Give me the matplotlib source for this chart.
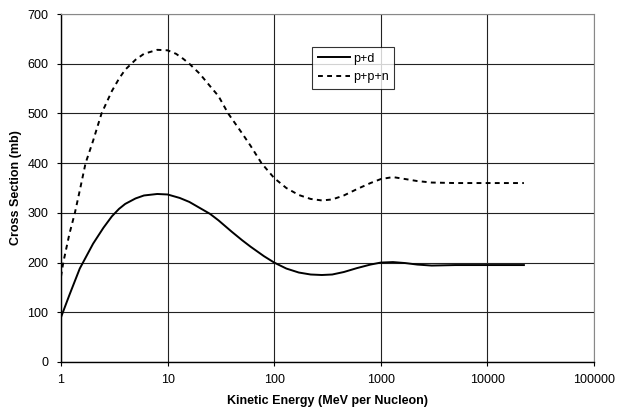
import matplotlib
matplotlib.use("Agg")
import matplotlib.pyplot as plt

plt.rcParams['font.family'] = ['Liberation Sans', 'DejaVu Sans']

# values
pd_energy = [1, 1.2, 1.5, 2, 2.5, 3, 3.5, 4, 5, 6, 8, 10, 13, 16, 20, 25, 30, 40, 50,
             60, 80, 100, 130, 170, 220, 280, 350, 450, 600, 800, 1000, 1300, 1700,
             2200, 3000, 5000, 10000, 22000]
pd_xs = [90, 135, 188, 238, 270, 293, 308, 318, 329, 335, 338, 337, 330, 322, 310, 298,
         285, 262, 245, 232, 213, 200, 188, 180, 176, 175, 176, 181, 189, 196, 200,
         201, 199, 196, 194, 195, 195, 195]

ppn_energy = [1, 1.05, 1.2, 1.35, 1.5, 1.7, 2, 2.4, 3, 3.5, 4, 5, 6, 8, 10, 12, 14, 16,
              20, 25, 30, 37, 50, 60, 76, 100, 130, 170, 220, 280, 350, 450, 600, 800,
              1000, 1300, 1700, 2200, 3000, 5000, 10000, 22000]
ppn_xs = [172, 200, 258, 300, 345, 400, 445, 500, 545, 570, 588, 608, 620, 628, 627, 620,
          610, 600, 580, 555, 535, 500, 460, 435, 400, 370, 350, 336, 328, 325, 327, 335,
          348, 360, 368, 372, 368, 364, 361, 360, 360, 360]

x_ticks = [1, 10, 100, 1000, 10000, 100000]
x_labels = ['1', '10', '100', '1000', '10000', '100000']
y_ticks = [0, 100, 200, 300, 400, 500, 600, 700]

fig = plt.figure(figsize=(6.25, 4.13), dpi=100)
ax = fig.add_axes([0.0976, 0.1235, 0.8528, 0.8425])

ax.plot(pd_energy, pd_xs, color='black', lw=1.4, label='p+d')
ax.plot(ppn_energy, ppn_xs, color='black', lw=1.4, linestyle=(0, (2.5, 2.2)), label='p+p+n')

ax.set_xscale('log')
ax.set_xlim(1, 100000)
ax.set_ylim(0, 700)
ax.set_xticks(x_ticks)
ax.set_xticklabels(x_labels)
ax.minorticks_off()
ax.set_yticks(y_ticks)
ax.tick_params(direction='out', length=3, width=0.8, labelsize=9, colors='black', pad=6)

ax.grid(True, color='#222222', lw=0.8)
ax.set_axisbelow(True)
for side in ['top', 'right']:
    ax.spines[side].set_color('#888888')
for side in ['left', 'bottom']:
    ax.spines[side].set_linewidth(1.0)

ax.set_xlabel('Kinetic Energy (MeV per Nucleon)', fontsize=9, fontweight='bold', labelpad=6)
ax.set_ylabel('Cross Section (mb)', fontsize=9, fontweight='bold', labelpad=4)

leg = ax.legend(loc='upper left', bbox_to_anchor=(0.471, 0.905), fontsize=9,
                frameon=True, fancybox=False, borderaxespad=0, handlelength=2.6,
                handletextpad=0.2, borderpad=0.45, labelspacing=0.5)
leg.get_frame().set_edgecolor('black')
leg.get_frame().set_linewidth(0.8)

fig.savefig('out.png', dpi=100)
